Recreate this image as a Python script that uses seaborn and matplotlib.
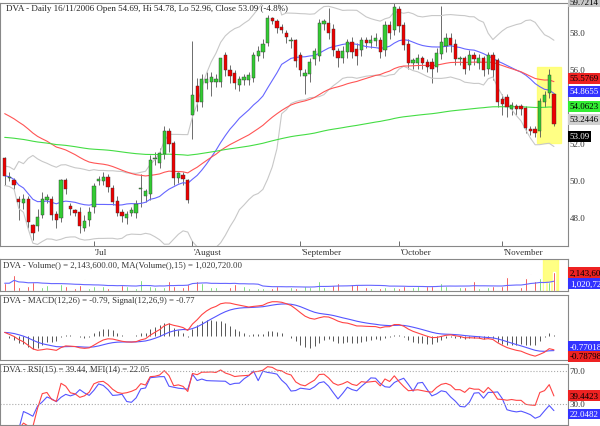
import numpy as np, pandas as pd, matplotlib
matplotlib.use("Agg")
import matplotlib.pyplot as plt
import seaborn as sns

sns.set_theme(style="white")
plt.rcParams['font.family'] = ['Liberation Serif', 'DejaVu Serif']

closes = [50.3,50.2,49.8,48.9,49.0,47.8,47.2,48.0,49.0,49.1,48.2,47.9,50.0,49.6,48.5,48.3,47.6,47.8,48.3,
          49.7,50.1,50.2,49.7,48.9,48.3,48.1,48.2,48.4,48.7,49.6,49.4,51.1,51.2,51.5,52.7,52.0,50.2,50.4,50.1,49.0,
          54.6,54.3,55.5,55.5,55.6,55.5,56.6,56.0,55.7,55.3,55.5,55.6,55.7,56.8,57.0,57.4,58.8,58.7,58.3,58.2,57.8,57.6,56.5,
          56.0,55.8,56.4,57.0,58.5,58.6,58.0,57.1,56.7,57.0,57.5,57.0,56.8,57.6,57.5,57.6,57.7,57.0,58.4,58.0,59.4,
          58.4,57.4,56.4,56.5,56.6,56.4,56.2,56.1,56.9,57.5,57.7,57.4,56.6,56.6,56.1,56.8,56.6,56.6,56.0,56.8,56.0,54.3,
          54.2,54.0,54.1,53.9,53.9,52.9,52.7,52.6,54.3,54.6,55.7,53.09]
opens = [51.2,50.2,50.0,49.0,48.8,49.0,47.6,47.6,48.2,49.0,49.0,48.2,48.0,50.0,48.6,48.4,48.3,47.5,47.9,
         48.6,50.0,50.0,50.2,49.6,48.9,48.3,48.0,48.3,48.3,49.6,49.2,49.3,51.2,51.0,51.5,52.7,52.0,50.2,50.3,50.0,
         53.6,55.1,54.3,55.3,55.4,55.4,55.4,56.8,56.0,55.8,55.2,55.5,55.5,55.6,56.8,57.0,57.5,58.8,58.6,58.3,58.0,57.6,57.6,
         56.8,55.7,55.8,56.6,56.8,58.5,58.5,58.2,57.0,56.7,57.0,57.5,57.1,57.1,57.6,57.5,57.6,57.6,57.1,58.4,58.2,
         59.3,58.4,57.4,56.4,56.4,56.6,56.4,56.4,56.2,56.9,57.3,57.7,57.4,56.6,56.6,56.3,56.8,56.4,56.6,56.1,56.8,56.5,
         54.4,54.5,53.9,54.0,54.0,53.9,52.8,52.8,52.7,54.3,54.8,54.69]
wick_up = [0.1,0.3,0.2,0.2,0.3,0.2,0.1,0.5,0.4,0.2,0.2,0.2,0.1,0.2,0.2,0.1,0.3,0.4,0.3,
           0.2,0.2,0.3,0.2,0.2,0.3,0.2,0.2,0.2,0.3,0.8,0.2,0.3,0.4,0.3,0.3,0.2,0.2,0.1,0.2,0.1,
           3.0,0.5,0.3,0.4,0.3,0.3,0.1,0.2,0.3,0.2,0.2,0.2,0.2,0.2,0.3,0.3,0.2,0.1,0.2,0.2,0.2,0.2,0.1,
           0.2,0.3,0.3,0.2,0.3,0.2,0.9,0.3,0.2,0.3,0.2,0.3,0.4,0.2,0.2,0.3,0.3,0.2,0.3,0.3,0.3,
           0.2,0.2,0.3,0.2,0.3,0.2,0.2,0.3,0.3,2.0,0.3,0.3,0.3,0.2,0.2,0.3,0.2,0.3,0.2,0.2,0.2,0.2,
           0.3,0.2,0.2,0.2,0.2,0.2,0.2,0.2,0.2,0.3,0.4,0.1]
wick_dn = [0.5,0.2,0.2,1.0,0.3,0.3,0.4,0.3,0.2,0.2,0.3,0.4,0.2,0.3,0.3,0.2,0.4,0.2,0.3,
           0.3,0.2,0.2,0.3,0.2,0.2,0.3,0.3,0.2,0.3,1.0,0.3,0.3,0.3,0.3,0.3,0.4,0.4,0.3,0.3,0.2,
           1.3,0.5,0.3,0.3,0.8,0.3,0.3,0.3,0.4,0.3,0.3,0.3,0.3,0.2,0.3,0.3,0.2,0.2,0.3,0.2,0.3,0.4,0.3,
           0.3,1.0,0.4,0.3,0.3,0.3,0.3,0.3,0.5,0.3,0.3,0.3,0.5,0.3,0.3,0.3,0.3,0.3,0.3,0.3,0.3,
           0.3,0.3,0.3,0.3,0.3,0.3,0.3,0.8,0.3,0.3,0.3,0.4,0.3,0.3,0.3,0.3,0.3,0.3,0.3,0.3,0.5,0.3,
           0.6,0.5,0.3,0.3,0.3,0.3,0.2,0.2,0.3,0.3,0.3,0.1]
volume = [0.9,0.9,1.9,0.5,0.9,0.6,1.0,1.0,0.5,0.7,0.5,0.9,0.8,0.6,0.5,0.4,0.7,1.4,0.4,
          0.6,0.5,0.6,0.4,0.5,0.4,0.7,0.6,0.5,0.4,1.3,0.5,0.6,0.5,0.7,0.5,1.2,0.6,0.7,0.5,0.8,
          3.5,1.2,0.9,0.6,0.5,0.5,0.4,0.6,0.5,0.8,0.5,0.6,0.4,0.5,0.3,0.4,0.5,0.4,0.6,0.5,0.3,0.5,0.4,
          0.4,0.6,0.5,0.8,1.2,0.5,0.4,0.7,0.9,0.5,0.7,0.8,0.8,0.6,0.5,0.4,0.4,0.4,0.5,0.4,0.5,
          0.3,0.6,0.6,0.5,0.6,0.7,0.6,0.6,0.7,0.9,0.6,0.5,0.4,0.5,0.5,0.4,1.1,0.4,0.5,0.5,0.6,0.5,
          0.6,1.6,1.3,1.0,0.5,1.5,2.0,1.2,1.5,1.0,1.0,2.14]
month_labels = ["Jul","August","September","October","November"]
month_idx = [19,40,63,84,106]

c = pd.Series(closes); o = pd.Series(opens)
hi = np.maximum(c, o) + np.array(wick_up); lo = np.minimum(c, o) - np.array(wick_dn)
n = len(c); x = np.arange(n)
ma20 = c.rolling(20, min_periods=1).mean()
sd20 = c.rolling(20, min_periods=3).std().bfill()
up_b, dn_b = ma20 + 2*sd20, ma20 - 2*sd20
ema50 = pd.concat([pd.Series([53.8]), c]).ewm(span=50, adjust=False).mean().iloc[1:].values
ema200 = pd.concat([pd.Series([52.4]), c]).ewm(span=200, adjust=False).mean().iloc[1:].values
e12 = pd.concat([pd.Series([51.5]), c]).ewm(span=12, adjust=False).mean().iloc[1:]
e26 = pd.concat([pd.Series([51.2]), c]).ewm(span=26, adjust=False).mean().iloc[1:]
macd = (e12 - e26).values
sig = pd.Series(macd).ewm(span=9, adjust=False).mean().values
d = c.diff().fillna(0)
g = d.clip(lower=0).ewm(alpha=1/15, adjust=False).mean(); l = (-d).clip(lower=0).ewm(alpha=1/15, adjust=False).mean()
rsi = (100 - 100/(1 + g/(l+1e-9))).values
tp = (hi + lo + c)/3; mf = tp*np.array(volume)
pos = mf.where(tp.diff() > 0, 0).rolling(14, min_periods=1).sum(); neg = mf.where(tp.diff() < 0, 0).rolling(14, min_periods=1).sum()
mfi = (100 - 100/(1 + pos/(neg+1e-9))).values
vma = pd.Series(volume).rolling(15, min_periods=1).mean().values

fig = plt.figure(figsize=(6, 4.27), dpi=100)
W = 568/600
def mk(top, bot):
    ax = fig.add_axes([0, 1-bot/427, W, (bot-top)/427])
    for s in ax.spines.values(): s.set_color('#888888'); s.set_linewidth(0.8)
    ax.set_xlim(-1, n+2); ax.set_xticks([]); ax.set_yticks([])
    return ax
axp = mk(4, 247); axv = mk(260, 292); axm = mk(296, 361); axr = mk(365, 426)

GR, RD = '#33cc33', '#ee0000'
for i in range(n):
    col = GR if c[i] >= o[i] else RD
    axp.vlines(i, lo[i], hi[i], color='#555555', lw=0.6, zorder=2)
    axp.bar(i, abs(c[i]-o[i]) + 0.05, bottom=min(c[i], o[i]), width=0.7, color=col, edgecolor='#333333', lw=0.3, zorder=3)
sns.lineplot(x=x, y=up_b, ax=axp, color='#c8c8c8', lw=0.8)
sns.lineplot(x=x, y=dn_b, ax=axp, color='#c8c8c8', lw=0.8)
sns.lineplot(x=x, y=ma20.values, ax=axp, color='#6666ff', lw=0.8)
sns.lineplot(x=x, y=ema50, ax=axp, color='#ff5555', lw=0.8)
sns.lineplot(x=x, y=ema200, ax=axp, color='#44dd44', lw=0.8)
axp.set_ylim(46.5, 59.65)
for v in [48, 50, 52, 54, 56, 58]:
    axp.text(1.003, (v-46.5)/13.15, f"{v:.1f}", transform=axp.transAxes, fontsize=6.5, va='center', color='#333333')
for xi in month_idx:
    axp.vlines(xi, 46.5, 46.75, color='#555555', lw=0.6)
axp.add_patch(plt.Rectangle((n-4.6, 52.1), 5.2, 4.1, color='#ffff66', alpha=0.8, zorder=1))
axp.text(0.01, 0.995, "DVA - Daily 16/11/2006 Open 54.69, Hi 54.78, Lo 52.96, Close 53.09 (-4.8%)",
         transform=axp.transAxes, fontsize=6.5, va='top', color='#222222')
def tag(ax, yfrac, txt, bg, fg='black'):
    ax.text(1.003, yfrac, txt, transform=ax.transAxes, fontsize=6.5, va='center', color=fg,
            bbox=dict(boxstyle='square,pad=0.15', fc=bg, ec='none'))
pf = lambda v: (v-46.5)/13.15
tag(axp, pf(59.72), "59.7214", '#c8c8c8')
tag(axp, pf(55.58), "55.5769", '#ee2222')
tag(axp, pf(54.87), "54.8655", '#3333ff', 'white')
tag(axp, pf(54.06), "54.0623", '#33ee33')
tag(axp, pf(53.35), "53.2446", '#d0d0d0')
tag(axp, pf(53.09)-0.05, "53.09", 'black', 'white')
for xi, lab in zip(month_idx, month_labels):
    fig.text((xi+1)/(n+3)*W + 0.002, 1-253/427, "'" + lab, fontsize=6.5, va='center', color='#333333')

vcol = [GR if c[i] >= o[i] else RD for i in range(n)]
axv.bar(x, volume, width=0.35, color=vcol)
sns.lineplot(x=x, y=vma, ax=axv, color='#6666ff', lw=0.8)
axv.add_patch(plt.Rectangle((n-3.3, 0), 3.2, 4.0, color='#ffff66', alpha=0.8, zorder=0))
axv.set_ylim(0, 3.7)
axv.text(0.005, 0.97, "DVA - Volume() = 2,143,600.00, MA(Volume(),15) = 1,020,720.00", transform=axv.transAxes,
         fontsize=6.3, va='top', color='#333333')
tag(axv, 2.14/3.7, "2,143,600", '#ee2222')
tag(axv, 1.02/3.7 - 0.05, "1,020,720", '#3333ff', 'white')

hist = macd - sig
axm.vlines(x, 0, hist*1.5, color='#555555', lw=0.7)
sns.lineplot(x=x, y=sig, ax=axm, color='#5555ff', lw=0.8)
sns.lineplot(x=x, y=macd, ax=axm, color='#ff4444', lw=0.8)
lo_m, hi_m = min(macd.min(), sig.min()) - 0.2, max(macd.max(), sig.max()) + 0.35
axm.set_ylim(lo_m, hi_m)
mf_ = lambda v: (v-lo_m)/(hi_m-lo_m)
axm.text(0.005, 0.99, "DVA - MACD(12,26) = -0.79, Signal(12,26,9) = -0.77", transform=axm.transAxes,
         fontsize=6.3, va='top', color='#333333')
tag(axm, mf_(sig[-1]) + 0.06, "-0.770183", '#3333ff', 'white')
tag(axm, mf_(macd[-1]) - 0.1, "-0.787983", '#ee2222')

sns.lineplot(x=x, y=mfi, ax=axr, color='#5555ff', lw=0.8)
sns.lineplot(x=x, y=rsi, ax=axr, color='#ff4444', lw=0.8)
axr.axhline(70, color='#aaaaaa', ls=':', lw=0.8); axr.axhline(30, color='#aaaaaa', ls=':', lw=0.8)
axr.set_ylim(5, 78)
rf = lambda v: (v-5)/73
axr.text(1.003, rf(70), "70.0", transform=axr.transAxes, fontsize=6.5, va='center', color='#333333')
axr.text(1.003, rf(30), "30.0", transform=axr.transAxes, fontsize=6.5, va='center', color='#333333')
axr.text(0.005, 0.99, "DVA - RSI(15) = 39.44, MFI(14) = 22.05", transform=axr.transAxes,
         fontsize=6.3, va='top', color='#333333')
tag(axr, rf(40), "39.4423", '#ee2222')
tag(axr, rf(18), "22.0482", '#3333ff', 'white')
for ax in (axp, axv, axm, axr): ax.set_xlabel(''); ax.set_ylabel('')
fig.savefig("out.png", dpi=100)
